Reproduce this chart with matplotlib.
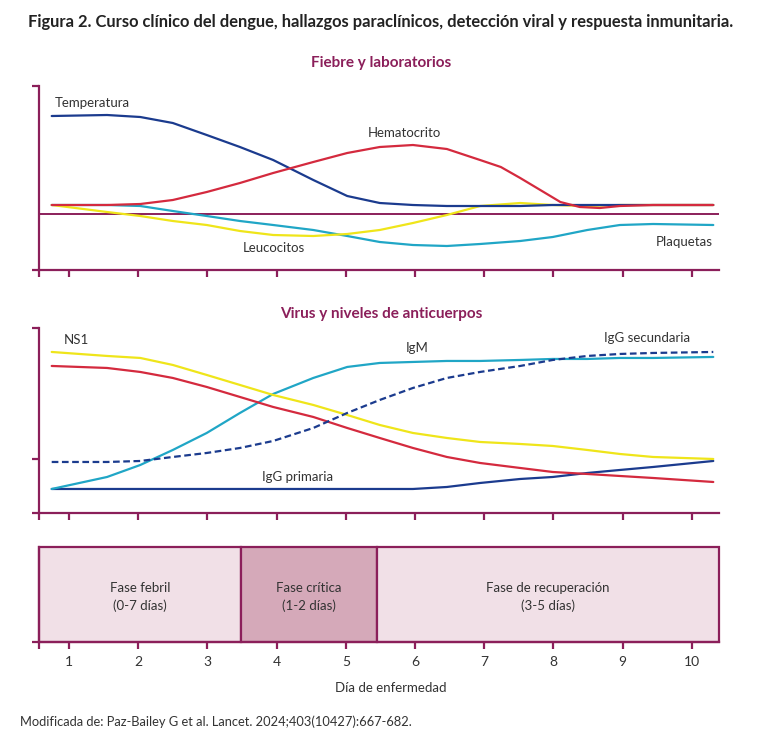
import matplotlib.pyplot as plt

plt.rcParams['font.family'] = ['Lato', 'DejaVu Sans']

# dias (eje x) en los que se leyeron los valores de las curvas
dias = [0.75, 1.55, 2.03, 2.5, 2.99, 3.47, 3.95, 4.53, 5.02, 5.49, 5.97,
        6.46, 6.94, 7.52, 7.99, 8.49, 8.96, 9.44, 10.31]

# Panel 1: fiebre y laboratorios (altura relativa, sin unidades)
temperatura = [154, 155, 153, 147, 135, 123, 110, 90, 74, 67, 65,
               64, 64, 64, 65, 65, 65, 65, 65]
leucocitos = [65, 58, 54, 49, 45, 39, 35, 34, 36, 40, 47,
              55, 64, 67, 65, 64, 65, 65, 65]
plaquetas = [65, 65, 64, 59, 54, 49, 45, 40, 34, 28, 25,
             24, 26, 29, 33, 40, 45, 46, 45]
dias_hto = [0.75, 1.55, 2.03, 2.5, 2.99, 3.47, 3.95, 4.53, 5.02, 5.49, 5.97,
            6.46, 6.94, 7.24, 7.52, 7.81, 8.10, 8.38, 8.67, 8.96, 9.44, 10.31]
hematocrito = [65, 65, 66, 70, 78, 87, 97, 108, 117, 123, 125,
               121, 110, 103, 92, 80, 68, 63, 62, 64, 65, 65]
linea_base = 56

# Panel 2: virus y niveles de anticuerpos
ns1 = [161, 157, 155, 148, 138, 128, 118, 108, 98, 88, 80,
       75, 71, 69, 67, 63, 59, 56, 54]
virus = [147, 145, 141, 135, 126, 116, 106, 96, 85, 75, 65,
         56, 50, 45, 41, 39, 37, 35, 31]
igm = [24, 36, 48, 63, 80, 100, 119, 135, 146, 150, 151,
       152, 152, 153, 154, 154, 155, 155, 156]
igg_secundaria = [51, 51, 52, 56, 60, 65, 72, 85, 100, 113, 125,
                  135, 141, 147, 153, 157, 159, 160, 161]
igg_primaria = [24, 24, 24, 24, 24, 24, 24, 24, 24, 24, 24,
                26, 30, 34, 36, 40, 43, 46, 52]

# Panel 3: fases clinicas
fase_inicio = [0.5665, 3.49, 5.45]
fase_fin = [3.49, 5.45, 10.393]
fase_texto = ['Fase febril\n(0-7 días)', 'Fase crítica\n(1-2 días)',
              'Fase de recuperación\n(3-5 días)']
fase_color = ['#f1e0e7', '#d5a9b9', '#f1e0e7']

dias_ticks = [1, 2, 3, 4, 5, 6, 7, 8, 9, 10]

azul = '#1b3b8e'
rojo = '#d42a3e'
amarillo = '#efe51a'
cian = '#20a6c6'
granate = '#8b1f5a'
gris = '#333333'
xmin, xmax = 0.5665, 10.393

fig = plt.figure(figsize=(7.62, 7.44), dpi=100)
ax1 = fig.add_axes([0.0512, 0.6371, 0.8924, 0.2473])
ax2 = fig.add_axes([0.0512, 0.3105, 0.8924, 0.2487])
ax3 = fig.add_axes([0.0512, 0.1371, 0.8924, 0.1277])


def estilo(ax, ymax, yt):
    ax.set_xlim(xmin, xmax)
    ax.set_ylim(0, ymax)
    for s in ['top', 'right']:
        ax.spines[s].set_visible(False)
    for s in ['left', 'bottom']:
        ax.spines[s].set_color(granate)
        ax.spines[s].set_linewidth(1.6)
    ax.set_xticks([xmin] + dias_ticks)
    ax.set_yticks(yt)
    ax.tick_params(axis='both', colors=granate, width=1.6, length=5,
                   direction='out', labelbottom=False, labelleft=False)


lw = 1.6
kw = dict(lw=lw, solid_joinstyle='round', solid_capstyle='round')
estilo(ax1, 184, [0, 184])
ax1.axhline(linea_base, color=granate, lw=1.4)
ax1.plot(dias, plaquetas, color=cian, **kw)
ax1.plot(dias, leucocitos, color=amarillo, **kw)
ax1.plot(dias, temperatura, color=azul, **kw)
ax1.plot(dias_hto, hematocrito, color=rojo, **kw)
ax1.text(0.80, 167, 'Temperatura', fontsize=9.5, color=gris, va='center')
ax1.text(5.31, 137, 'Hematocrito', fontsize=9.5, color=gris, va='center')
ax1.text(3.51, 22, 'Leucocitos', fontsize=9.5, color=gris, va='center')
ax1.text(9.48, 28, 'Plaquetas', fontsize=9.5, color=gris, va='center')

estilo(ax2, 185, [0, 54, 185])
ax2.plot(dias, igg_primaria, color=azul, **kw)
ax2.plot(dias, igm, color=cian, **kw)
ax2.plot(dias, virus, color=rojo, **kw)
ax2.plot(dias, ns1, color=amarillo, **kw)
ax2.plot(dias, igg_secundaria, color=azul, lw=lw, linestyle=(0, (3, 1.6)))
ax2.text(0.93, 173, 'NS1', fontsize=9.5, color=gris, va='center')
ax2.text(5.87, 165, 'IgM', fontsize=9.5, color=gris, va='center')
ax2.text(8.73, 175, 'IgG secundaria', fontsize=9.5, color=gris, va='center')
ax2.text(3.79, 36, 'IgG primaria', fontsize=9.5, color=gris, va='center')

estilo(ax3, 1, [0])
anchos = [f - i for i, f in zip(fase_inicio, fase_fin)]
ax3.bar(fase_inicio, [1] * 3, width=anchos, align='edge', color=fase_color,
        edgecolor=granate, linewidth=1.6, clip_on=False)
for i, f, t in zip(fase_inicio, fase_fin, fase_texto):
    ax3.text((i + f) / 2, 0.47, t, ha='center', va='center', fontsize=9.5,
             color=gris, linespacing=1.5)
ax3.set_xticklabels([''] + [str(d) for d in dias_ticks])
ax3.tick_params(axis='x', labelbottom=True, labelcolor=gris, labelsize=10,
                pad=5)

fig.text(0.5, 1 - 22 / 744, 'Figura 2. Curso clínico del dengue, hallazgos '
         'paraclínicos, detección viral y respuesta inmunitaria.',
         ha='center', va='center', fontsize=11.9, fontweight='bold',
         color='#222222')
fig.text(0.5, 1 - 63 / 744, 'Fiebre y laboratorios', ha='center',
         va='center', fontsize=11, fontweight='bold', color=granate)
fig.text(0.5, 1 - 314 / 744, 'Virus y niveles de anticuerpos', ha='center',
         va='center', fontsize=11, fontweight='bold', color=granate)
fig.text(391 / 762, 1 - 688 / 744, 'Día de enfermedad', ha='center',
         va='center', fontsize=9.5, color=gris)
fig.text(20 / 762, 1 - 722 / 744, 'Modificada de: Paz-Bailey G et al. Lancet. '
         '2024;403(10427):667-682.', ha='left', va='center', fontsize=9.3,
         color=gris)

plt.savefig('out.png', dpi=100)
